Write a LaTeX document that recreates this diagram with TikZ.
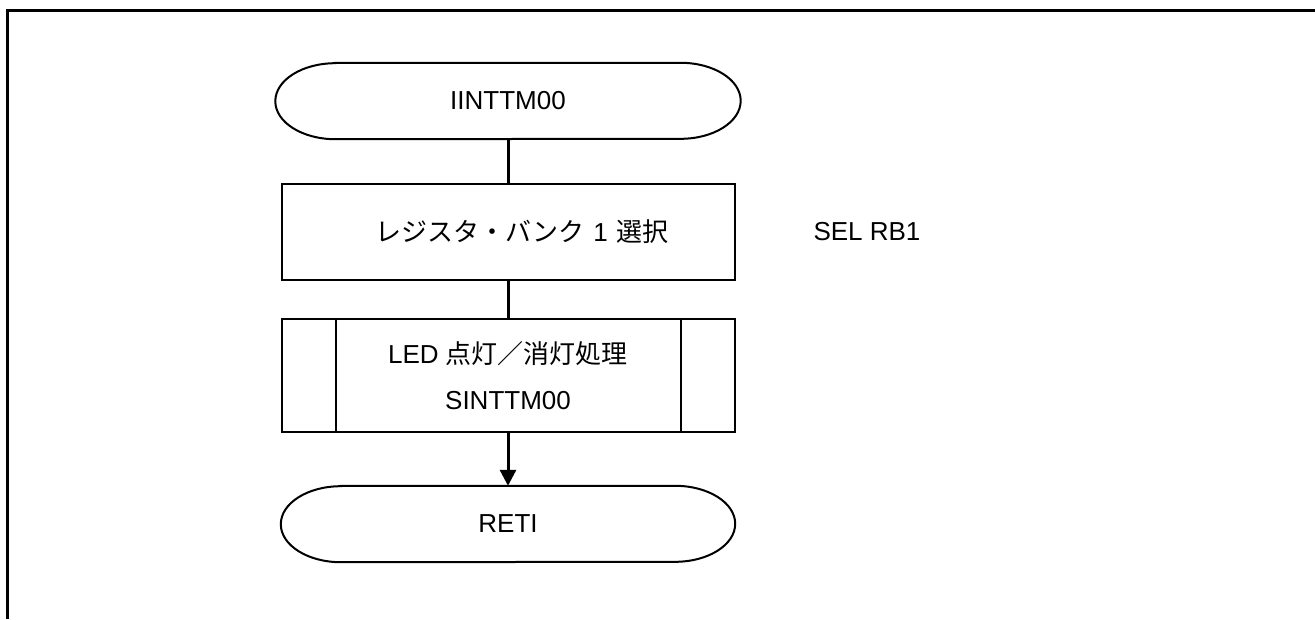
\documentclass[tikz,border=0pt]{standalone}
\usepackage{fontspec}
\setmainfont{Liberation Sans}
\newfontfamily\jpfont{Noto Sans CJK JP}
\usetikzlibrary{arrows.meta}

\tikzset{
  box/.style={draw,line width=2pt,minimum width=453pt,inner sep=0pt,align=center,
    font=\fontsize{26}{46}\selectfont},
  capsule/.style={minimum width=454pt,minimum height=76pt,inner sep=0pt,
    font=\fontsize{26}{30}\selectfont},
  flow/.style={line width=3pt},
}
% outline of a start/end node, elliptical ends
\newcommand{\capsuleline}[1]{%
  \draw[line width=2pt] ([xshift=60pt]#1.north west) -- ([xshift=-60pt]#1.north east)
    arc[start angle=90,end angle=-90,x radius=60pt,y radius=38pt]
    -- ([xshift=60pt]#1.south west)
    arc[start angle=270,end angle=90,x radius=60pt,y radius=38pt] -- cycle;}

\begin{document}
\begin{tikzpicture}[x=1pt,y=1pt]
      \useasboundingbox (0,0) rectangle (1315,-619);
      \draw[line width=3pt] (7.5,-619) -- (7.5,-10) -- (1315,-10);
      \node[capsule,minimum width=465pt] (start) at (508,-101) {IINTTM00};
      \capsuleline{start}
      \node[box,minimum height=96pt] (selbank) at (508,-232) {\hspace*{28pt}{\jpfont レジスタ・バンク}\hspace{9pt}1\hspace{9pt}{\jpfont 選択}};
      \node[font=\fontsize{26}{30}\selectfont,anchor=west] (selnote) at (810,-232) {SEL RB1};
      \node[box,minimum height=113pt] (ledproc) at (508,-375.5) {LED {\jpfont 点灯／消灯処理}\\SINTTM00};
      \draw[line width=2pt] ([xshift=55pt]ledproc.north west) -- ([xshift=55pt]ledproc.south west);
      \draw[line width=2pt] ([xshift=-55pt]ledproc.north east) -- ([xshift=-55pt]ledproc.south east);
      \node[capsule] (reti) at (508,-524) {RETI};
      \capsuleline{reti}
      \draw[flow] (start.south) -- (selbank.north);
      \draw[flow] (selbank.south) -- (ledproc.north);
      \draw[flow,-{Triangle[length=16pt,width=16pt]}] (ledproc.south) -- (reti.north);
    \end{tikzpicture}
\end{document}
